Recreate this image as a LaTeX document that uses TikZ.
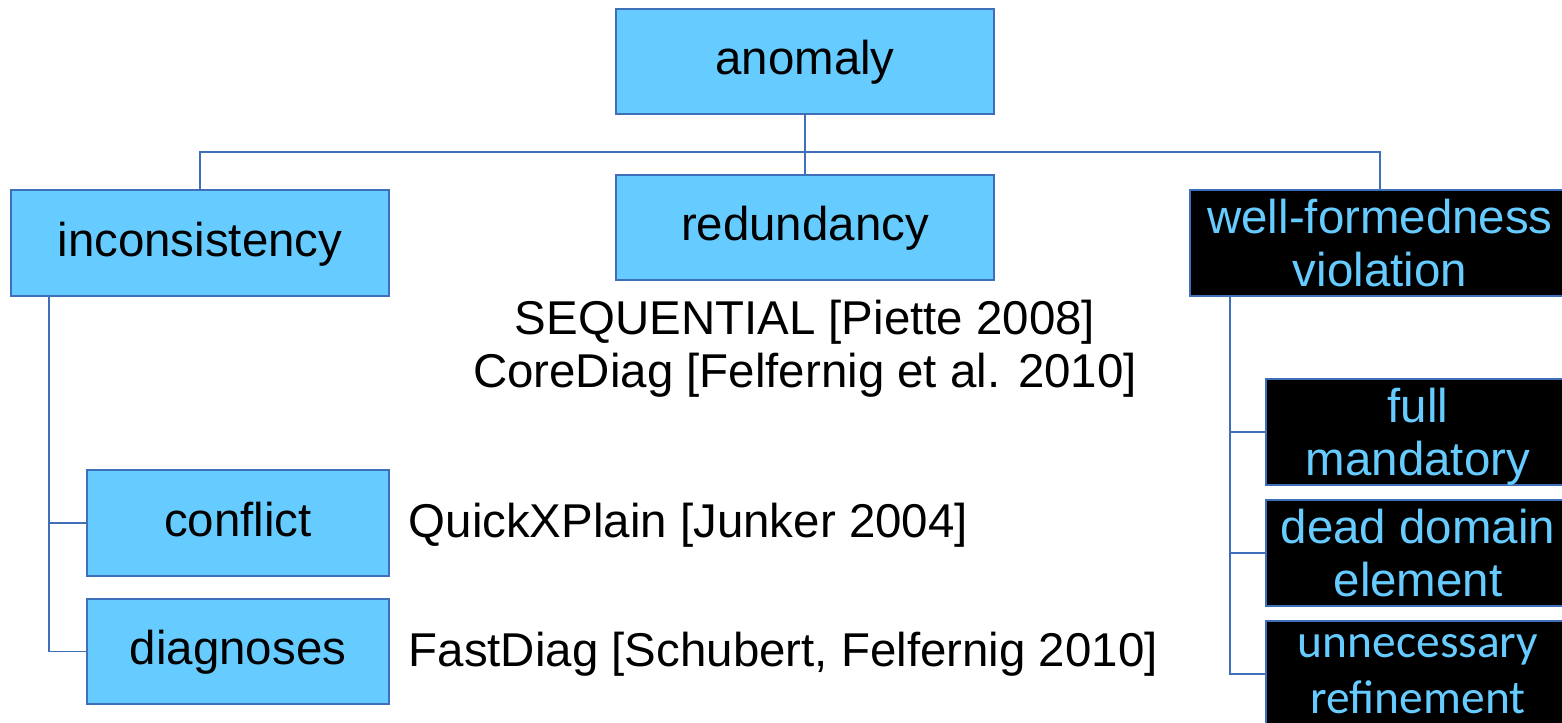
\documentclass[tikz,border=0pt]{standalone}
\usepackage{fontspec}
\setmainfont{Liberation Sans}
\newfontfamily\calibrifont{Carlito}
\definecolor{boxblue}{HTML}{66CCFF}
\definecolor{lineblue}{HTML}{3F6FB8}
% pads a line so that the box runs on past the right page edge
\newcommand{\edgepad}{\hspace*{4mm}}
\tikzset{
  bluebox/.style={draw=lineblue, line width=0.5pt, fill=boxblue, inner sep=0pt,
    minimum height=1.06cm, text height=0.75em, text depth=0pt},
  darkbox/.style={draw=lineblue, line width=0.5pt, fill=black, text=boxblue,
    inner sep=0pt, minimum height=1.06cm, align=center},
  link/.style={draw=lineblue, line width=0.5pt},
  ref/.style={inner sep=0pt, align=center}
}
\begin{document}
\begin{tikzpicture}[font=\fontsize{13.5}{15.2}\selectfont]
    \useasboundingbox (0,0) rectangle (15.62,7.23);
    \clip (0,0) rectangle (15.62,7.23);
    % top level
    \node (anomaly) at (8.05,6.615) [bluebox,minimum width=3.78cm,minimum height=1.05cm] {anomaly};
    \node (inconsistency) at (2.00,4.80) [bluebox,minimum width=3.78cm] {inconsistency};
    \node (redundancy) at (8.05,4.955) [bluebox,minimum width=3.78cm,minimum height=1.05cm] {redundancy};
    \node (wellformed) at (14.00,4.80) [darkbox,minimum width=4.20cm] {well-formedness\edgepad\\violation\edgepad};
    % second level
    \node (conflict) at (2.38,2.00) [bluebox,minimum width=3.02cm] {conflict};
    \node (diagnoses) at (2.38,0.715) [bluebox,minimum width=3.02cm,minimum height=1.05cm] {diagnoses};
    \node (fullmand) at (14.38,2.91) [darkbox,minimum width=3.44cm,text depth=0pt] {full\edgepad\\mandatory\edgepad};
    \node (deaddom) at (14.38,1.70) [darkbox,minimum width=3.44cm] {dead domain\edgepad\\element\edgepad};
    \node (unnec) at (14.38,0.49) [darkbox,minimum width=3.44cm,font=\calibrifont\fontsize{13.5}{15.8}\selectfont] {unnecessary\edgepad\\refinement\edgepad};
    % algorithms
    \node (redref) at (8.05,3.745) [ref] {SEQUENTIAL [Piette 2008]\\CoreDiag [Felfernig et al. 2010]};
    \node (conflictref) at (4.08,1.98) [ref,anchor=west] {QuickXPlain [Junker 2004]};
    \node (diagref) at (4.08,0.69) [ref,anchor=west] {FastDiag [Schubert, Felfernig 2010]};
    % connectors
    \coordinate (hub) at (8.05,5.71);
    \coordinate (inctrunk) at (0.49,4.27);
    \coordinate (wftrunk) at (12.30,4.27);
    \draw[link] (anomaly) -- (hub);
    \draw[link] (hub) -- (redundancy);
    \draw[link] (inconsistency.north) |- (hub) -| (wellformed.north -| 13.80,0);
    \draw[link] (inctrunk) |- (conflict.west);
    \draw[link] (inctrunk) |- (diagnoses.west);
    \draw[link] (wftrunk) |- (fullmand.west);
    \draw[link] (wftrunk) |- (deaddom.west);
    \draw[link] (wftrunk) |- (unnec.west);
\end{tikzpicture}
\end{document}
